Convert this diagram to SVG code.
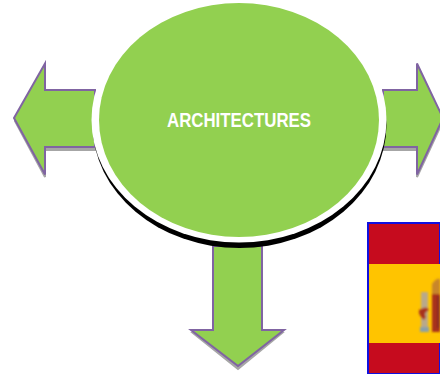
<svg xmlns="http://www.w3.org/2000/svg" width="440" height="374" viewBox="0 0 440 374">
<defs><filter id="b" x="-30%" y="-30%" width="160%" height="160%"><feGaussianBlur stdDeviation="0.9"/></filter></defs>
<style>
.a{fill:#92d050;stroke:#8064a2;stroke-width:2;stroke-linejoin:miter}
.s{fill:#a6a6a6;stroke:#a6a6a6;stroke-width:2}
text{font-family:"Liberation Sans",Arial,sans-serif;font-weight:700;font-size:20px;fill:#fff;text-anchor:middle}
</style>
<rect width="440" height="374" fill="#fff"/>
<g id="flag">
<rect x="368" y="223" width="72" height="151" fill="#c60b1e" stroke="#1010e0" stroke-width="2"/>
<rect x="369" y="264" width="71" height="79" fill="#ffc400"/>
<g filter="url(#b)">
<rect x="421" y="292" width="7" height="39" fill="#b9a98a"/>
<rect x="420" y="327" width="9" height="5" fill="#8aa0a8"/>
<path d="M419 310q8-5 10 0q-6 3-3 7l-2 3q-6-5-5-10z" fill="#a8321e"/>
<rect x="432" y="294" width="8" height="38" fill="#a8321e"/>
<path d="M432 284q4-6 8-5v15h-8z" fill="#c8862a"/>
<rect x="437" y="296" width="3" height="32" fill="#8b2a20"/>
</g>
</g>
<g id="connectors">
<g id="arrow-left">
<path class="s" d="M15 121L45 177V150H95V93H45V66Z"/>
<path class="a" d="M14 118L45 63.500V90H95V147H45V174.500Z"/>
</g>
<g id="arrow-right">
<path class="s" d="M383 93H417V66L443 121L417 177V150H383Z"/>
<path class="a" d="M383 90H417V63.500L443 118L417 174.500V147H383Z"/>
</g>
<g id="arrow-down">
<path class="s" d="M213 246H261V333H282L238 369L193 333H213Z"/>
<path class="a" d="M213 246H262V330H284L238 366L191 330H213Z"/>
</g>
</g>
<g id="center">
<ellipse cx="239.5" cy="124.5" rx="147" ry="123.5" fill="#000"/>
<ellipse cx="239" cy="120" rx="147.500" ry="122.500" fill="#fff"/>
<ellipse cx="239" cy="120" rx="140" ry="117" fill="#92d050"/>
<text x="239" y="126.500" textLength="144" lengthAdjust="spacingAndGlyphs">ARCHITECTURES</text>
</g>
</svg>
